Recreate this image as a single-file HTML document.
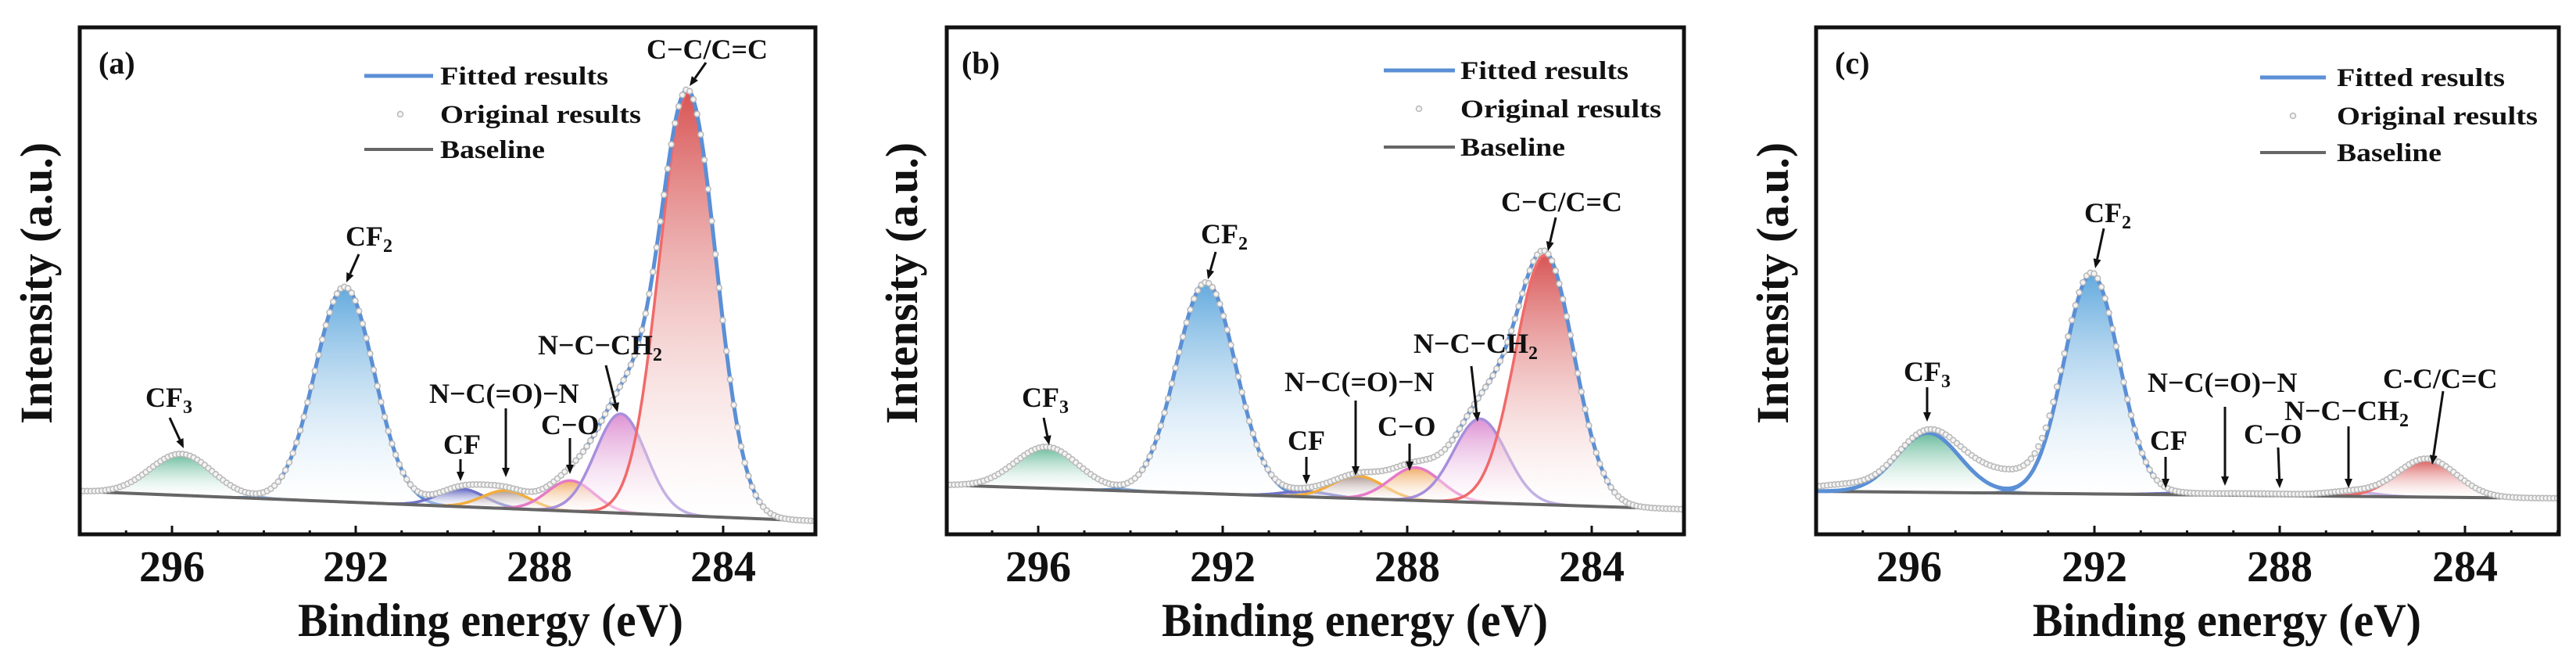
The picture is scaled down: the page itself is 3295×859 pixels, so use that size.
<!DOCTYPE html>
<html><head><meta charset="utf-8"><style>
html,body{margin:0;padding:0;background:#fff;}
svg{display:block;}
text{font-family:"Liberation Serif",serif;font-weight:bold;fill:#111;}
</style></head><body>
<svg id="fig" width="3295" height="859" viewBox="0 0 3295 859" xmlns="http://www.w3.org/2000/svg">
<defs id="defs"></defs>
</svg>
<script>
// ---------- data ----------
const componentNames = ["CF3","CF2","CF","NCON","CO","NCCH2","CC"];
// panel a
const centersA = [295.8, 292.24, 289.7, 288.73, 287.32, 286.23, 284.77];
const heightsA = [53, 275, 23, 23, 39, 127, 541];
const widthsA  = [1.6, 1.52, 1.2, 1.2, 1.2, 1.3, 1.45];
const baselineA = [55, 17];
const extraA = [];
// panel b
const centersB = [295.82, 292.36, 290.2, 289.07, 287.82, 286.42, 285.02];
const heightsB = [53, 270, 7, 29, 42, 107, 319];
const widthsB  = [1.6, 1.52, 1.2, 1.3, 1.3, 1.35, 1.5];
const baselineB = [63, 32];
const extraB = [];
// panel c
const centersC = [295.59, 292.06, 290.2, 289.0, 288.0, 286.5, 284.83];
const heightsC = [76, 281, 2, 2, 2, 6, 49];
const widthsC  = [1.6, 1.4, 1.2, 1.2, 1.2, 1.3, 1.5];
const baselineC = [55, 46];
const extraC = [[294.0, 25, 2.0], [297.5, 8, 1.5]];
const xTicks = [296, 292, 288, 284];

const fillColors = ["#5fb795","#5aa5dc","#5a60bf","#a8908c","#f0a860","#dc8cd0","#d64c4c"];
const lineColors = ["#5b8fd6","#5b8fd6","#6f73c9","#f2ad3c","#e57ac8","#a78fdc","#f06a6a"];

const panels = [
 {id:"a", ref:288, refX:690, pe:58.75, left:102, right:1043, cen:centersA, hei:heightsA, wid:widthsA, base:baselineA, extra:extraA,
  lab:{x:126,y:94}, leg:{x1:466,x2:554,dot:512,tx:563,tw:215,tw2:257,tw3:134,y1:108,y2:157,y3:202},
  ytitle:58, xt:[381,874],
  ann:[
   {t:"CF",sub:"3",x:186,w:66,y:520,ax1:217,ay1:534,ax2:235,ay2:573},
   {t:"CF",sub:"2",x:442,w:59,y:314,ax1:459,ay1:325,ax2:443,ay2:361},
   {t:"CF",sub:"",x:567,w:50,y:580,ax1:589,ay1:587,ax2:589,ay2:615},
   {t:"N−C(=O)−N",sub:"",x:549,w:199,y:515,ax1:647,ay1:522,ax2:647,ay2:610},
   {t:"C−O",sub:"",x:692,w:76,y:555,ax1:729,ay1:560,ax2:729,ay2:606},
   {t:"N−C−CH",sub:"2",x:688,w:155,y:453,ax1:775,ay1:467,ax2:790,ay2:527},
   {t:"C−C/C=C",sub:"",x:827,w:165,y:75,ax1:903,ay1:80,ax2:882,ay2:110}
  ]},
 {id:"b", ref:284, refX:2036, pe:59.0, left:1211, right:2154, cen:centersB, hei:heightsB, wid:widthsB, base:baselineB, extra:extraB,
  lab:{x:1230,y:94}, leg:{x1:1770,x2:1861,dot:1815,tx:1868,tw:215,tw2:257,tw3:134,y1:101,y2:150,y3:199},
  ytitle:1165, xt:[1486,1980],
  ann:[
   {t:"CF",sub:"3",x:1307,w:63,y:520,ax1:1335,ay1:534,ax2:1342,ay2:569},
   {t:"CF",sub:"2",x:1536,w:63,y:311,ax1:1555,ay1:322,ax2:1545,ay2:357},
   {t:"CF",sub:"",x:1647,w:52,y:575,ax1:1671,ay1:584,ax2:1671,ay2:619},
   {t:"N−C(=O)−N",sub:"",x:1643,w:200,y:500,ax1:1734,ay1:512,ax2:1734,ay2:608},
   {t:"C−O",sub:"",x:1762,w:74,y:557,ax1:1803,ay1:567,ax2:1803,ay2:602},
   {t:"N−C−CH",sub:"2",x:1808,w:155,y:451,ax1:1882,ay1:468,ax2:1890,ay2:539},
   {t:"C−C/C=C",sub:"",x:1920,w:161,y:270,ax1:1990,ay1:278,ax2:1980,ay2:321}
  ]},
 {id:"c", ref:284, refX:3153, pe:59.25, left:2323, right:3273, cen:centersC, hei:heightsC, wid:widthsC, base:baselineC, extra:extraC,
  lab:{x:2347,y:94}, leg:{x1:2891,x2:2975,dot:2933,tx:2989,tw:215,tw2:257,tw3:134,y1:110,y2:159,y3:206},
  ytitle:2279, xt:[2600,3097],
  ann:[
   {t:"CF",sub:"3",x:2435,w:63,y:487,ax1:2465,ay1:495,ax2:2465,ay2:539},
   {t:"CF",sub:"2",x:2666,w:63,y:284,ax1:2691,ay1:292,ax2:2680,ay2:343},
   {t:"CF",sub:"",x:2750,w:49,y:575,ax1:2770,ay1:584,ax2:2770,ay2:624},
   {t:"N−C(=O)−N",sub:"",x:2747,w:200,y:501,ax1:2846,ay1:520,ax2:2846,ay2:621},
   {t:"C−O",sub:"",x:2870,w:77,y:567,ax1:2914,ay1:572,ax2:2916,ay2:624},
   {t:"N−C−CH",sub:"2",x:2922,w:157,y:537,ax1:3004,ay1:545,ax2:3004,ay2:624},
   {t:"C-C/C=C",sub:"",x:3048,w:155,y:496,ax1:3125,ay1:500,ax2:3111,ay2:594}
  ]}
];

// ---------- drawing ----------
const NS = "http://www.w3.org/2000/svg";
const svg = document.getElementById("fig");
const defs = document.getElementById("defs");
const TOP = 35, BOT = 683;
function yScale(v){ return BOT - v; }
function mk(tag, attrs, parent){
  const e = document.createElementNS(NS, tag);
  for (const k in attrs) e.setAttribute(k, attrs[k]);
  (parent||svg).appendChild(e); return e;
}
function gauss(x, c, h, w){ return h*Math.exp(-4*Math.LN2*(x-c)*(x-c)/(w*w)); }

panels.forEach(function(p){
  const xS = e => p.refX + (p.ref - e)*p.pe;
  const eL = p.ref + (p.refX - p.left)/p.pe, eR = p.ref - (p.right - p.refX)/p.pe;
  const base = e => p.base[0] + (p.base[1]-p.base[0])*(eL - e)/(eL - eR);
  const g = mk("g", {});
  
  
  const clipId = "clip" + p.id;
  const cp = mk("clipPath", {id: clipId}, defs);
  mk("rect", {x:p.left, y:TOP, width:p.right-p.left, height:BOT-TOP}, cp);
  const plot = mk("g", {"clip-path":"url(#"+clipId+")"}, g);
  
  
  const N = 400, es = [];
  for (let i=0;i<=N;i++) es.push(eL + (eR-eL)*i/N);
  p.cen.forEach(function(c, k){
    const h = p.hei[k], w = p.wid[k];
    const gid = "grad"+p.id+k;
    const lg = mk("linearGradient", {id:gid, gradientUnits:"userSpaceOnUse", x1:0, x2:0, y1:yScale(base(c)+h), y2:yScale(base(c))}, defs);
    mk("stop", {offset:"0", "stop-color":fillColors[k], "stop-opacity":"0.95"}, lg);
    mk("stop", {offset:"1", "stop-color":"#ffffff", "stop-opacity":"0.3"}, lg);
    let top = "", bot = "";
    const pts = es.filter(e => Math.abs(e-c) < 3*w);
    pts.forEach(function(e, i){
      top += (i?"L":"M") + xS(e).toFixed(1) + "," + yScale(base(e)+gauss(e,c,h,w)).toFixed(1);
    });
    for (let i=pts.length-1;i>=0;i--) bot += "L" + xS(pts[i]).toFixed(1) + "," + yScale(base(pts[i])).toFixed(1);
    const area = mk("path", {d: top + bot + "Z", fill:"url(#"+gid+")", stroke:"none"}, plot);
    
    
    const ln = mk("path", {d: top, fill:"none", stroke:lineColors[k], "stroke-width":"3.5"}, plot);
    
    
  });
  const bl = mk("line", {x1:xS(eL), y1:yScale(base(eL)), x2:xS(eR), y2:yScale(base(eR)), stroke:"#666", "stroke-width":"4"}, plot);
  
  
  const fit = e => base(e) + p.cen.reduce((s,c,k)=>s+gauss(e,c,p.hei[k],p.wid[k]),0);
  let fd = "";
  es.forEach(function(e,i){ fd += (i?"L":"M") + xS(e).toFixed(1) + "," + yScale(fit(e)).toFixed(1); });
  const fl = mk("path", {d:fd, fill:"none", stroke:"#5b8fd6", "stroke-width":"5"}, plot);
  
  
  const og = mk("g", {fill:"#f4f4f4", stroke:"#b8b8b8", "stroke-width":"1.5"}, plot);
  
  
  for (let e = eL; e >= eR; e -= 0.08){
    const v = fit(e) + p.extra.reduce((s,x)=>s+gauss(e,x[0],x[1],x[2]),0);
    const pt = mk("circle", {cx:xS(e).toFixed(1), cy:yScale(v).toFixed(1), r:"3.5"}, og);
    
    
  }
  const fr = mk("rect", {x:p.left, y:TOP, width:p.right-p.left, height:BOT-TOP, fill:"none", stroke:"#111", "stroke-width":"5"}, g);
  
  
  for (let e = Math.ceil(eR); e <= Math.floor(eL); e++){
    const major = xTicks.indexOf(e) >= 0;
    const t = mk("line", {x1:xS(e), x2:xS(e), y1:BOT, y2:BOT-(major?11:5), stroke:"#111", "stroke-width":"3"}, g);
    
    
  }
  xTicks.forEach(function(v){
    const tl = mk("text", {x:xS(v), y:743, "font-size":"56", "text-anchor":"middle"}, g);
    tl.textContent = String(v);
    
    
  });
  const xt = mk("text", {x:p.xt[0], y:813, "font-size":"60", textLength:p.xt[1]-p.xt[0], lengthAdjust:"spacingAndGlyphs"}, g);
  xt.textContent = "Binding energy (eV)";
  
  
  const yt = mk("text", {x:0, y:0, "font-size":"58", "text-anchor":"middle", textLength:"360", lengthAdjust:"spacingAndGlyphs",
    transform:"translate(" + (p.ytitle+8) + ",362) rotate(-90)"}, g);
  yt.textContent = "Intensity (a.u.)";
  
  
  const pl = mk("text", {x:p.lab.x, y:p.lab.y, "font-size":"40"}, g);
  pl.textContent = "(" + p.id + ")";
  
  
  const L = p.leg;
  const lg = mk("g", {}, g);
  
  
  const l1 = mk("line", {x1:L.x1, x2:L.x2, y1:L.y1-11, y2:L.y1-11, stroke:"#5b8fd6", "stroke-width":"5"}, lg);
  
  
  const t1 = mk("text", {x:L.tx, y:L.y1, "font-size":"33", textLength:L.tw, lengthAdjust:"spacingAndGlyphs"}, lg);
  t1.textContent = "Fitted results";
  
  
  const d2 = mk("circle", {cx:L.dot, cy:L.y2-11, r:"3.5", fill:"#f4f4f4", stroke:"#b8b8b8", "stroke-width":"1.5"}, lg);
  
  
  const t2 = mk("text", {x:L.tx, y:L.y2, "font-size":"33", textLength:L.tw2, lengthAdjust:"spacingAndGlyphs"}, lg);
  t2.textContent = "Original results";
  
  
  const l3 = mk("line", {x1:L.x1, x2:L.x2, y1:L.y3-11, y2:L.y3-11, stroke:"#666", "stroke-width":"4"}, lg);
  
  
  const t3 = mk("text", {x:L.tx, y:L.y3, "font-size":"33", textLength:L.tw3, lengthAdjust:"spacingAndGlyphs"}, lg);
  t3.textContent = "Baseline";
  
  
  p.ann.forEach(function(a){
    const at = mk("text", {x:a.x, y:a.y, "font-size":"36"}, g);
    
    
    const main = mk("tspan", {}, at); main.textContent = a.t;
    if (a.sub){ const s = mk("tspan", {"font-size":"24", dy:"8"}, at); s.textContent = a.sub; }
    const dx = a.ax2-a.ax1, dy = a.ay2-a.ay1, L2 = Math.hypot(dx,dy), ux = dx/L2, uy = dy/L2;
    const hx = a.ax2 - ux*12, hy = a.ay2 - uy*12;
    const ar = mk("line", {x1:a.ax1, y1:a.ay1, x2:hx, y2:hy, stroke:"#111", "stroke-width":"3"}, g);
    
    
    const hd = mk("polygon", {points: a.ax2+","+a.ay2+" "+(hx-uy*5)+","+(hy+ux*5)+" "+(hx+uy*5)+","+(hy-ux*5), fill:"#111"}, g);
    
    
  });
});
</script>
</body></html>
